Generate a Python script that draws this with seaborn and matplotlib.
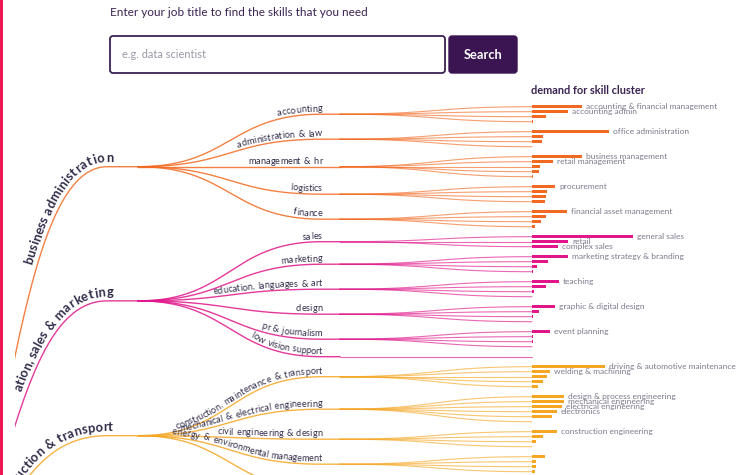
import numpy as np
import pandas as pd
import matplotlib
matplotlib.use("Agg")
import matplotlib.pyplot as plt
import seaborn as sns
from matplotlib.patches import Rectangle, FancyBboxPatch
from matplotlib.font_manager import FontProperties, findfont, get_font

try:
    from matplotlib.ft2font import LoadFlags
    NOHINT = LoadFlags.NO_HINTING
except ImportError:  # older matplotlib
    from matplotlib.ft2font import LOAD_NO_HINTING as NOHINT

# ---------------- data ----------------
title_text = "Enter your job title to find the skills that you need"
placeholder_text = "e.g. data scientist"
button_text = "Search"
bars_title = "demand for skill cluster"

clusters = ["business administration", "ation, sales & marketing", "ruction & transport"]
cluster_colors = ["#f26a22", "#e0168a", "#f5a623"]

branches = ["accounting", "administration & law", "management & hr", "logistics", "finance",
            "sales", "marketing", "education, languages & art", "design", "pr & journalism",
            "low vision support",
            "construction, maintenance & transport", "mechanical & electrical engineering",
            "civil engineering & design", "energy & environmental management", ""]
branch_cluster = [0, 0, 0, 0, 0,
                  1, 1, 1, 1, 1, 1,
                  2, 2, 2, 2, 2]

demand = [
    [50, 36, 14, 1],
    [77, 11, 10, 0],
    [50, 21, 8, 7, 1],
    [23, 15, 14, 13],
    [35, 14, 9, 3],
    [101, 36, 26],
    [36, 16, 5, 1],
    [27, 14, 2, 0],
    [23, 7, 1, 0],
    [18, 1, 1, 0],
    [0],
    [73, 18, 15, 11, 6],
    [32, 32, 30, 25, 20, 0],
    [25, 11, 4, 0],
    [13, 4, 4, 3],
    [0, 0, 0, 0],
]

skills = [
    ["accounting & financial management", "accounting admin", "", ""],
    ["office administration", "", "", ""],
    ["business management", "retail management", "", "", ""],
    ["procurement", "", "", ""],
    ["financial asset management", "", "", ""],
    ["general sales", "retail", "complex sales"],
    ["marketing strategy & branding", "", "", ""],
    ["teaching", "", "", ""],
    ["graphic & digital design", "", "", ""],
    ["event planning", "", "", ""],
    [""],
    ["driving & automotive maintenance", "welding & machining", "", "", ""],
    ["design & process engineering", "mechanical engineering", "electrical engineering",
     "electronics", "", ""],
    ["construction engineering", "", "", ""],
    ["", "", "", ""],
    ["", "", "", ""],
]

# ---------------- style ----------------
sns.set_theme(style="white")
FAMILY = ["Lato", "DejaVu Sans"]
plt.rcParams["font.family"] = FAMILY

W, H = 737, 475
DPI = 100
fig = plt.figure(figsize=(W / DPI, H / DPI), dpi=DPI)
fig.patch.set_facecolor("white")
ax = fig.add_axes([15 / W, 0, (W - 15) / W, 1])
ax.set_xlim(15, W)
ax.set_ylim(H, 0)
ax.axis("off")

DARK = "#3a2352"
LABEL = "#2f2b48"
GREY = "#7d7a8c"

# ---------------- layout ----------------
LEAF_STEP = 5.0
GROUP_GAP = 10.0
y = 106.7
leaf_y = []
for b in range(len(branches)):
    ys = []
    for _ in demand[b]:
        ys.append(y)
        y += LEAF_STEP
    y += GROUP_GAP - LEAF_STEP
    leaf_y.append(ys)
branch_y = [float(np.mean(v)) for v in leaf_y]
cluster_y = [float(np.mean([branch_y[b] for b in range(len(branches)) if branch_cluster[b] == c]))
             for c in range(len(clusters))]

X_NODE1 = 107
X_FAN1 = 138
X_NODE2 = 322
X_FAN2 = 340
X_BAR = 532
ROOT = (-60, 560)


def bez(p0, p1, p2, p3, n=80):
    t = np.linspace(0, 1, n)[:, None]
    p = ((1 - t) ** 3) * np.array(p0) + 3 * ((1 - t) ** 2) * t * np.array(p1) \
        + 3 * (1 - t) * t ** 2 * np.array(p2) + t ** 3 * np.array(p3)
    return p[:, 0], p[:, 1]


def link(x0, y0, x1, y1, n=80):
    xm = (x0 + x1) / 2
    return bez((x0, y0), (xm, y0), (xm, y1), (x1, y1), n)


def glyph_centres(s, size, weight, space_scale=1.0):
    """ink centre of every character along the baseline, and total advance (pixels)"""
    fp = FontProperties(family=FAMILY, size=size, weight=weight)
    font = get_font(findfont(fp))
    font.set_size(size, DPI)
    pen = 0.0
    centres = []
    for ch in s:
        g = font.load_char(ord(ch), flags=NOHINT)
        adv = g.linearHoriAdvance / 65536.0
        if ch == " ":
            adv *= space_scale
        bx = g.horiBearingX / 64.0
        gw = g.width / 64.0
        centres.append(pen + bx + gw / 2 if gw > 0 else pen + adv / 2)
        pen += adv
    return centres, pen


def text_on_path(xs, ys, s, x_end, size, color, weight="normal", offset=3.0, space_scale=1.0):
    xs = np.asarray(xs, float)
    ys = np.asarray(ys, float)
    seg = np.hypot(np.diff(xs), np.diff(ys))
    arc = np.concatenate([[0], np.cumsum(seg)])
    idx = int(np.searchsorted(xs, x_end))
    idx = min(max(idx, 1), len(xs) - 1)
    f = (x_end - xs[idx - 1]) / max(xs[idx] - xs[idx - 1], 1e-9)
    a_end = arc[idx - 1] + f * seg[idx - 1]
    centres, total = glyph_centres(s, size, weight, space_scale)
    a0 = a_end - total
    for ch, cc in zip(s, centres):
        if ch == " ":
            continue
        a = a0 + cc
        if a <= 0:
            tx, ty = xs[1] - xs[0], ys[1] - ys[0]
            n_ = np.hypot(tx, ty)
            tx, ty = tx / n_, ty / n_
            px, py = xs[0] + tx * a, ys[0] + ty * a
        else:
            j = int(np.searchsorted(arc, a))
            j = min(max(j, 1), len(arc) - 1)
            g = (a - arc[j - 1]) / max(seg[j - 1], 1e-9)
            px = xs[j - 1] + g * (xs[j] - xs[j - 1])
            py = ys[j - 1] + g * (ys[j] - ys[j - 1])
            tx, ty = xs[j] - xs[j - 1], ys[j] - ys[j - 1]
            n_ = np.hypot(tx, ty)
            tx, ty = tx / n_, ty / n_
        nx, ny = ty, -tx
        ang = np.degrees(np.arctan2(-ty, tx))
        ax.text(px + nx * offset, py + ny * offset, ch, rotation=ang, rotation_mode="anchor",
                ha="center", va="baseline", fontsize=size, color=color, fontweight=weight,
                clip_on=True)


# ---------------- level-1 curves ----------------
for c, name in enumerate(clusters):
    col = cluster_colors[c]
    cy = cluster_y[c]
    xs, ys = bez(ROOT, (10, ROOT[1]), (10, cy), (X_NODE1, cy), 200)
    xs = np.append(xs, X_FAN1)
    ys = np.append(ys, cy)
    ax.plot(xs, ys, color=col, lw=1.0, alpha=0.85, solid_capstyle="round")
    text_on_path(xs, ys, name, 113, 9.3, LABEL, weight="bold", offset=4.5, space_scale=1.0)

# ---------------- level-2 curves ----------------
for b, name in enumerate(branches):
    c = branch_cluster[b]
    col = cluster_colors[c]
    xs, ys = link(X_FAN1, cluster_y[c], X_NODE2, branch_y[b], 160)
    xs = np.append(xs, X_FAN2)
    ys = np.append(ys, branch_y[b])
    ax.plot(xs, ys, color=col, lw=1.0, alpha=0.85)
    if name:
        text_on_path(xs, ys, name, X_NODE2, 6.6, LABEL, offset=2.8, space_scale=1.4)
    for ly in leaf_y[b]:
        lx, lyy = link(X_FAN2, branch_y[b], X_BAR, ly)
        ax.plot(lx, lyy, color=col, lw=0.8, alpha=0.65)

# ---------------- bars ----------------
rows = []
for b in range(len(branches)):
    for j, d in enumerate(demand[b]):
        rows.append({"y": leaf_y[b][j], "demand": d, "cluster": clusters[branch_cluster[b]],
                     "skill": skills[b][j]})
df = pd.DataFrame(rows)

bax = fig.add_axes([X_BAR / W, 0, (W - X_BAR) / W, 1])
sns.barplot(data=df, x="demand", y="y", hue="cluster", orient="h", native_scale=True,
            palette=dict(zip(clusters, cluster_colors)), width=0.6, saturation=1,
            errorbar=None, legend=False, linewidth=0, ax=bax)
bax.set_xlim(0, W - X_BAR)
bax.set_ylim(H, 0)
bax.axis("off")
bax.patch.set_alpha(0)

for _, r in df.iterrows():
    if r["skill"]:
        ax.text(X_BAR + r["demand"] + 4, r["y"], r["skill"], ha="left", va="center",
                fontsize=6.0, color=GREY)

ax.text(531, 91, bars_title, ha="left", va="center", fontsize=7.9, fontweight="bold", color=DARK)

# ---------------- search header ----------------
ax.text(110, 13, title_text, ha="left", va="center", fontsize=8.5, color=DARK)
ax.add_patch(FancyBboxPatch((110, 36), 335, 37, boxstyle="round,pad=0,rounding_size=3",
                            facecolor="white", edgecolor=DARK, lw=1.3))
ax.text(122, 55, placeholder_text, ha="left", va="center", fontsize=7.9, color="#9a98a6")
ax.add_patch(FancyBboxPatch((449, 36), 68, 37, boxstyle="round,pad=0,rounding_size=3",
                            facecolor="#3b1452", edgecolor="#3b1452", lw=1))
ax.text(483, 55, button_text, ha="center", va="center", fontsize=9.3, color="white",
        fontweight="bold")

# left red stripe
fig.add_artist(Rectangle((0, 0), 3 / W, 1, transform=fig.transFigure, color="#ee1652", lw=0))

fig.savefig("out.png", dpi=DPI)
